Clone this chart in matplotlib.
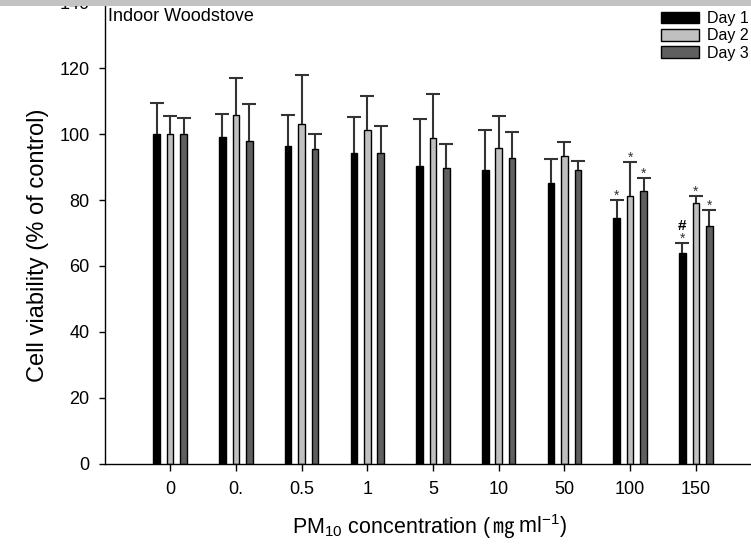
#
# plot.py
#
# Cell viability of cells exposed to indoor woodstove PM10,
# grouped bars for three days with upward SD error bars.
#

import numpy as np
import matplotlib
matplotlib.use("Agg")
import matplotlib.pyplot as plt
from matplotlib.patches import Rectangle
from matplotlib.offsetbox import TextArea, HPacker, AnchoredOffsetbox

# --- data ---
concentrations = ["0", "0.", "0.5", "1", "5", "10", "50", "100", "150"]
days = ["Day 1", "Day 2", "Day 3"]

day1_mean = [100.0, 99.0, 96.4, 94.2, 90.2, 89.0, 85.1, 74.5, 63.9]
day1_sd = [9.6, 7.0, 9.4, 11.1, 14.4, 12.3, 7.4, 5.6, 3.1]
day2_mean = [100.0, 105.8, 103.1, 101.2, 98.8, 95.8, 93.4, 81.3, 79.1]
day2_sd = [5.5, 11.3, 15.0, 10.5, 13.3, 9.8, 4.1, 10.3, 2.0]
day3_mean = [100.0, 98.0, 95.5, 94.3, 89.7, 92.7, 89.1, 82.7, 72.2]
day3_sd = [5.0, 11.3, 4.6, 8.2, 7.3, 8.1, 2.7, 4.0, 4.7]

# significance markers: (group index, day index)
star_marks = [(7, 0), (7, 1), (7, 2), (8, 0), (8, 1), (8, 2)]
hash_marks = [(8, 0)]

colors = ["#000000", "#c0c0c0", "#5f5f5f"]

plt.rcParams["font.family"] = ["Liberation Sans", "DejaVu Sans"]
plt.rcParams["mathtext.fontset"] = "custom"
plt.rcParams["mathtext.rm"] = "Liberation Sans"

fig = plt.figure(figsize=(7.51, 5.53), dpi=100)
# axes runs past the right edge of the (cropped) picture
ax = fig.add_axes([104.5 / 751, 1 - 463.5 / 553, (761.5 - 104.5) / 751, (463.5 - 2.4) / 553])

x = np.arange(len(concentrations))
offsets = [-0.205, 0.0, 0.205]
width = 0.1
means = [day1_mean, day2_mean, day3_mean]
sds = [day1_sd, day2_sd, day3_sd]

for i in range(3):
    m = np.array(means[i])
    s = np.array(sds[i])
    ax.bar(x + offsets[i], m, width, color=colors[i], edgecolor="black",
           linewidth=1.0, label=days[i], zorder=2)
    _, caps, _ = ax.errorbar(x + offsets[i], m, yerr=[np.zeros_like(s), s],
                             fmt="none", ecolor="#333333", elinewidth=1.5,
                             capsize=4.7, capthick=1.5, zorder=3)
    # hide the zero-length lower caps
    for cap in caps:
        if np.allclose(cap.get_ydata(), m):
            cap.set_visible(False)

for g, d in star_marks:
    top = means[d][g] + sds[d][g]
    ax.text(x[g] + offsets[d], top + 0.1, "*", ha="center", va="baseline",
            fontsize=10, color="#333333", zorder=4)

for g, d in hash_marks:
    top = means[d][g] + sds[d][g]
    ax.text(x[g] + offsets[d], top + 4.0, "#", ha="center", va="baseline",
            fontsize=11, fontweight="bold", zorder=4)

ax.set_xlim(-1, 9)
ax.set_ylim(0, 140)
ax.set_yticks(np.arange(0, 141, 20))
ax.set_xticks(x)
ax.set_xticklabels(concentrations)

ax.spines["top"].set_visible(False)
ax.spines["right"].set_visible(False)
for sp in ["left", "bottom"]:
    ax.spines[sp].set_linewidth(1.0)
ax.tick_params(axis="y", direction="out", length=4.3, width=1.0, pad=6.5, labelsize=13)
ax.tick_params(axis="x", direction="out", length=4.8, width=1.0, pad=8, labelsize=13)

ax.text(0.005, 0.987, "Indoor Woodstove", transform=ax.transAxes,
        ha="left", va="top", fontsize=13)

ax.legend(loc="upper left", bbox_to_anchor=(661 / 751, 1 - 11 / 553),
          bbox_transform=fig.transFigure, frameon=False, fontsize=11.5,
          handlelength=2.4, handleheight=0.75, handletextpad=0.5,
          labelspacing=0.15, borderpad=0, borderaxespad=0)

fig.text(38 / 751, 1 - 245 / 553, "Cell viability (% of control)",
         rotation=90, ha="center", va="center", fontsize=17)

# x label built from pieces so the ㎎ sign can come from a CJK font
parts = [
    TextArea("PM$_\\mathregular{10}$ concentration (",
             textprops=dict(fontsize=15.5, family="Liberation Sans")),
    TextArea("㎎", textprops=dict(fontsize=15.5, family=["Noto Sans CJK JP", "DejaVu Sans"])),
    TextArea(" ml$^\\mathregular{-1}$)",
             textprops=dict(fontsize=15.5, family="Liberation Sans")),
]
packer = HPacker(children=parts, align="baseline", pad=0, sep=0)
xlab = AnchoredOffsetbox(loc="center", child=packer, pad=0, borderpad=0,
                         frameon=False, bbox_to_anchor=(430 / 751, 1 - 526 / 553),
                         bbox_transform=fig.transFigure)
fig.add_artist(xlab)

# grey strip along the top edge of the reference crop
fig.patches.append(Rectangle((0, 1 - 5.7 / 553), 1, 5.7 / 553, transform=fig.transFigure,
                             facecolor="#c3c3c3", edgecolor="none", zorder=10))

fig.savefig("out.png", dpi=100)
